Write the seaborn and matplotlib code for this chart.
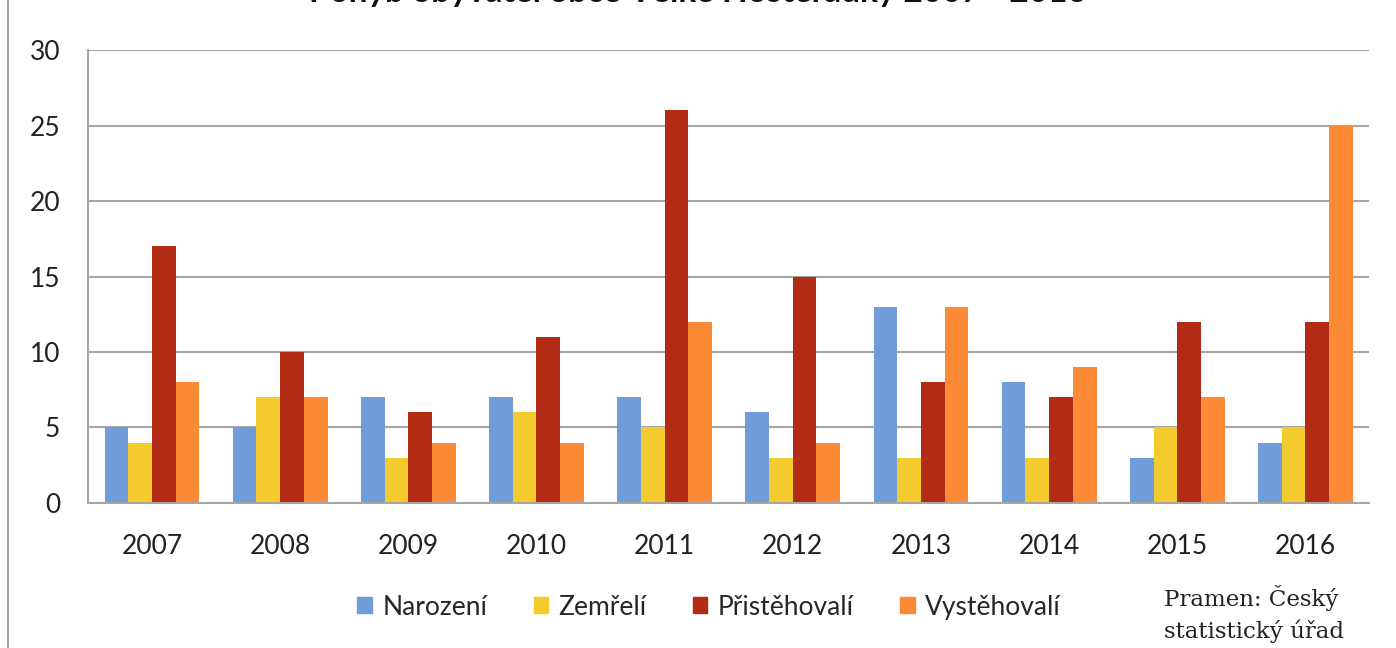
import pandas as pd
import matplotlib.pyplot as plt
import seaborn as sns
from matplotlib.lines import Line2D

# data
roky = ['2007', '2008', '2009', '2010', '2011', '2012', '2013', '2014', '2015', '2016']
narozeni = [5, 5, 7, 7, 7, 6, 13, 8, 3, 4]
zemreli = [4, 7, 3, 6, 5, 3, 3, 3, 5, 5]
pristehovali = [17, 10, 6, 11, 26, 15, 8, 7, 12, 12]
vystehovali = [8, 7, 4, 4, 12, 4, 13, 9, 7, 25]

serie = ['Narození', 'Zemřelí', 'Přistěhovalí', 'Vystěhovalí']
barvy = ['#729BDA', '#F4CB2C', '#B22B14', '#FD8A35']

df = pd.DataFrame({
    'rok': roky * 4,
    'serie': [s for s in serie for _ in roky],
    'pocet': narozeni + zemreli + pristehovali + vystehovali,
})

sns.set_theme(style='white')
plt.rcParams['font.family'] = ['Lato', 'DejaVu Sans']

fig = plt.figure(figsize=(13.96, 6.48), dpi=100)
ax = fig.add_axes([0.063, 0.2238, 0.918, 0.699])

sns.barplot(data=df, x='rok', y='pocet', hue='serie', palette=barvy,
            width=0.74, saturation=1, linewidth=0, ax=ax, legend=False)

ax.set_ylim(0, 30)
ax.set_yticks(range(0, 31, 5))
ax.set_xlim(-0.5, 9.5)
ax.set_xlabel('')
ax.set_ylabel('')
ax.yaxis.grid(True, color='#A6A6A6', linewidth=1.5)
ax.set_axisbelow(True)
for s in ['top', 'right']:
    ax.spines[s].set_visible(False)
for s in ['left', 'bottom']:
    ax.spines[s].set_color('#A6A6A6')
    ax.spines[s].set_linewidth(1.5)
ax.tick_params(axis='both', length=0, labelsize=19, colors='#222222')
ax.tick_params(axis='x', pad=22)
ax.tick_params(axis='y', pad=20)

# legenda dole
handles = [plt.Rectangle((0, 0), 1, 1, color=c) for c in barvy]
fig.legend(handles, serie, loc='center', bbox_to_anchor=(0.508, 0.063),
           ncol=4, frameon=False, fontsize=19, handlelength=0.55, handleheight=0.55,
           handletextpad=0.4, columnspacing=1.75)

fig.text(0.834, 0.052, 'Pramen: Český\nstatistický úřad', family=['DejaVu Serif'],
         fontsize=16.5, color='#222222', ha='left', va='center', linespacing=1.45)

# titulek useknutý nahoře
fig.text(0.5, 1 - 2 / 648, 'Pohyb obyvatel obce Velké Hostěrádky 2007 - 2016',
         ha='center', va='baseline', fontsize=24, fontweight='bold', color='#111111')

# okraj grafu vlevo
fig.add_artist(Line2D([8 / 1396, 8 / 1396], [0, 1], color='#A6A6A6', linewidth=1.5,
                      transform=fig.transFigure))

fig.savefig('out.png', dpi=100)
